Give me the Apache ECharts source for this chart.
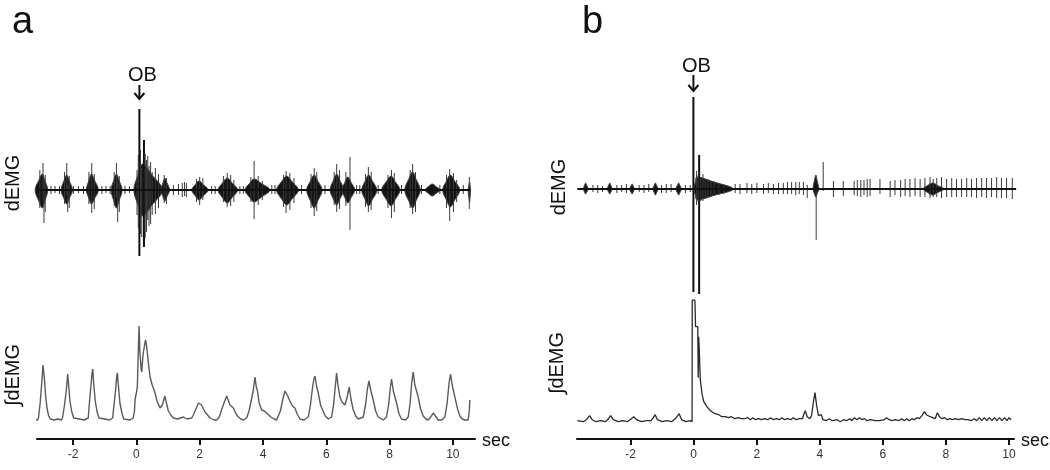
<!DOCTYPE html>
<html>
<head>
<meta charset="utf-8">
<script src="https://cdn.jsdelivr.net/npm/echarts@6/dist/echarts.min.js"></script>
<style>
  html, body { margin: 0; padding: 0; background: #fff; }
  #chart { width: 1050px; height: 470px; }
</style>
</head>
<body>
<div id="chart"></div>
<script>
// tick labels of the time axes (sec)
const tickValues = [-2, 0, 2, 4, 6, 8, 10];

// ---- panel a ----
// dEMG bursts: [start, peak, end, upper core, lower core]
const burstsA = [
  [-3.2, -2.97, -2.8, 16, 18], [-2.38, -2.2, -2.02, 15, 14], [-1.58, -1.42, -1.2, 16, 14],
  [-0.8, -0.63, -0.45, 16, 18], [-0.08, 0.2, 0.82, 26, 26], [0.78, 0.9, 1.05, 12, 11],
  [1.75, 1.98, 2.27, 9, 10], [2.58, 2.87, 3.2, 12, 13], [3.43, 3.72, 4.22, 11, 12],
  [4.43, 4.75, 5.12, 14, 15], [5.38, 5.62, 5.87, 15, 18], [6.12, 6.33, 6.55, 16, 15],
  [6.5, 6.68, 6.9, 13, 13], [7.12, 7.34, 7.6, 15, 16], [7.75, 8.05, 8.33, 14, 16],
  [8.48, 8.73, 8.97, 18, 18], [9.12, 9.35, 9.6, 6, 6], [9.68, 9.92, 10.22, 15, 17],
  [10.48, 10.53, 10.56, 8, 12]
];
// dEMG single spikes: [time, top, bottom]
const spikesA = [
  [-2.95, 27, -10], [-2.92, 10, -33], [-2.2, 27, -5], [-2.17, 5, -22], [-1.41, 27, -23],
  [-0.63, 27, -8], [-0.59, 8, -32], [0.02, 20, -25], [0.095, 81, -66], [0.17, 22, -47],
  [0.24, 50, -57], [0.32, 30, -42], [0.4, 24, -36], [0.5, 18, -25], [1.45, 7, -7],
  [1.52, 8, -6], [1.58, 7, -7], [2.0, 13, -15], [2.87, 17, -17], [3.72, 29, -29],
  [4.73, 19, -23], [5.62, 22, -26], [6.33, 26, -22], [6.75, 33, -40], [7.33, 23, -22],
  [8.06, 20, -28], [8.73, 26, -24], [9.9, 21, -31], [10.52, 13, -19],
  [-3.05, 20, -18], [-2.88, 15, -22], [-2.27, 18, -14], [-2.12, 14, -18], [-1.5, 18, -14],
  [-1.33, 16, -19], [-0.7, 18, -16], [-0.54, 14, -22], [0.06, 35, -38], [0.13, 40, -44],
  [0.28, 36, -48], [0.36, 34, -30], [0.45, 28, -34], [0.6, 22, -24], [0.7, 16, -18],
  [0.88, 15, -13], [0.95, 12, -14], [1.9, 11, -12], [2.1, 12, -10], [2.75, 14, -12],
  [2.98, 15, -16], [3.08, 10, -12], [3.62, 13, -12], [3.85, 14, -15], [3.98, 9, -10],
  [4.65, 15, -17], [4.85, 17, -20], [4.98, 12, -13], [5.52, 16, -18], [5.7, 18, -21],
  [6.25, 18, -15], [6.42, 20, -19], [6.62, 18, -16], [7.24, 16, -17], [7.42, 18, -20],
  [7.95, 15, -18], [8.15, 17, -22], [8.65, 20, -18], [8.82, 18, -22], [9.8, 15, -18],
  [10.02, 17, -22], [10.12, 10, -12],
  [-2.7, 4, -4], [-2.57, 4, -3], [-2.43, 4, -4], [-1.99, 4, -4], [-1.83, 4, -3], [-1.67, 4, -4],
  [-1.09, 4, -4], [-0.96, 4, -3], [-0.83, 4, -4], [-0.36, 4, -4], [-0.22, 4, -3],
  [1.17, 5, -5], [1.33, 6, -5], [2.38, 4, -4], [2.49, 4, -4], [3.27, 4, -4], [3.38, 4, -4],
  [4.28, 5, -4], [4.38, 5, -4], [5.22, 5, -4], [5.96, 5, -4], [6.96, 5, -4], [7.06, 5, -4],
  [7.64, 5, -4], [8.38, 5, -4], [9.01, 5, -4], [9.59, 5, -4], [10.33, 5, -4]
];
const baselineA = [[-3.2, 0], [10.55, 0]];
// integrated dEMG: [time, value]
const intA = [
  [-3.2, 1], [-3.12, 1], [-3.09, 4], [-3.04, 18], [-2.99, 38], [-2.95, 56], [-2.935, 58], [-2.91, 44],
  [-2.87, 26], [-2.82, 12], [-2.77, 5], [-2.72, 2], [-2.6, 1], [-2.48, 2], [-2.36, 1],
  [-2.33, 4], [-2.27, 16], [-2.21, 32], [-2.17, 47], [-2.14, 36], [-2.1, 20], [-2.04, 9], [-1.98, 3],
  [-1.94, 1], [-1.8, 2], [-1.65, 1], [-1.52, 3], [-1.5, 12], [-1.45, 30], [-1.4, 48], [-1.378, 52],
  [-1.35, 38], [-1.3, 20], [-1.24, 9], [-1.18, 3], [-1.146, 1], [-1, 2], [-0.85, 1], [-0.75, 3],
  [-0.72, 12], [-0.66, 30], [-0.62, 45], [-0.6, 48], [-0.57, 36], [-0.52, 18], [-0.45, 7], [-0.4, 2],
  [-0.357, 1], [-0.2, 1], [-0.1, 3], [-0.06, 10], [-0.04, 22], [0.0, 28], [0.03, 34],
  [0.07, 80], [0.085, 95], [0.11, 70], [0.15, 52], [0.17, 49], [0.2, 62], [0.222, 69], [0.26, 76],
  [0.29, 81], [0.32, 76], [0.38, 58], [0.433, 44], [0.5, 36], [0.59, 28], [0.65, 20], [0.748, 13],
  [0.82, 16], [0.9, 25], [0.95, 18], [1.011, 10], [1.09, 6], [1.169, 3], [1.3, 2], [1.485, 4], [1.6, 2],
  [1.75, 3], [1.8, 6], [1.88, 12], [1.96, 18], [2.02, 17], [2.06, 16], [2.12, 12], [2.17, 9], [2.25, 6],
  [2.327, 3], [2.45, 1], [2.538, 1], [2.62, 4], [2.7, 12], [2.78, 19], [2.853, 25], [2.9, 21],
  [2.959, 16], [3.0, 17], [3.064, 13], [3.15, 7], [3.222, 4], [3.3, 2], [3.38, 1],
  [3.485, 3], [3.56, 10], [3.64, 22], [3.7, 32], [3.748, 44], [3.79, 34], [3.822, 31], [3.88, 18],
  [3.958, 11], [4.04, 10], [4.116, 8], [4.25, 4], [4.35, 2], [4.432, 1],
  [4.485, 3], [4.55, 10], [4.643, 24], [4.7, 30], [4.727, 32], [4.78, 25], [4.853, 20], [4.93, 15],
  [5.011, 13], [5.08, 7], [5.169, 2], [5.3, 1], [5.432, 4], [5.5, 16], [5.569, 34], [5.61, 42],
  [5.643, 45], [5.7, 34], [5.748, 28], [5.82, 16], [5.885, 11], [5.97, 5], [6.064, 2],
  [6.169, 4], [6.23, 16], [6.29, 36], [6.327, 48], [6.37, 36], [6.432, 24], [6.5, 19], [6.59, 16],
  [6.66, 24], [6.727, 34], [6.78, 22], [6.853, 11], [6.93, 5], [7.011, 2],
  [7.169, 4], [7.24, 16], [7.3, 32], [7.348, 40], [7.41, 30], [7.485, 21], [7.56, 10], [7.642, 4], [7.8, 1],
  [7.905, 4], [7.97, 16], [8.02, 32], [8.063, 42], [8.12, 30], [8.221, 18], [8.3, 7], [8.379, 2], [8.5, 1],
  [8.59, 4], [8.65, 18], [8.7, 38], [8.747, 49], [8.8, 36], [8.905, 24], [8.98, 12], [9.063, 5],
  [9.15, 2], [9.221, 1], [9.3, 4], [9.379, 8], [9.45, 5], [9.537, 1], [9.65, 1],
  [9.748, 4], [9.82, 18], [9.88, 38], [9.926, 47], [9.98, 36], [10.063, 24], [10.15, 12], [10.221, 5],
  [10.3, 2], [10.379, 1], [10.484, 1], [10.52, 10], [10.537, 21]
];
// OB marker: [time, text y, arrow top, arrow bottom]
const obMarkA = [[0.095, 115, 105, 91]];

// ---- panel b ----
const burstsB = [
  [-3.5, -3.43, -3.35, 6, 5], [-2.75, -2.67, -2.6, 6, 5], [-2.05, -1.97, -1.9, 5, 5],
  [-1.32, -1.24, -1.16, 6, 6], [-0.6, -0.51, -0.43, 6, 6], [-0.03, 0.06, 1.2, 12, 11],
  [3.7, 3.79, 3.88, 14, 8], [7.15, 7.45, 7.8, 6, 6]
];
const spikesB = [
  [-0.05, 92, -103], [0.13, 34, -105], [3.8, 0, -51], [4.02, 27, -2], [0.05, 18, -16],
  [0.1, 14, -13], [0.18, 12, -12], [0.25, 15, -12], [0.32, 10, -10], [0.4, 10, -9],
  [0.5, 8, -8], [0.6, 8, -7], [0.75, 6, -6], [0.9, 5, -5],
  [-3.2, 4, -3], [-3.05, 4, -4], [-2.9, 3, -3], [-2.45, 4, -4], [-2.3, 4, -3], [-2.15, 5, -4],
  [-1.75, 4, -3], [-1.6, 4, -4], [-1.45, 5, -3], [-1.05, 4, -4], [-0.9, 5, -4], [-0.75, 5, -3],
  [-0.3, 4, -4], [-0.15, 4, -3],
  [1.26, 5, -4], [1.41, 5, -5], [1.63, 6, -4], [1.78, 5, -5], [1.94, 6, -4], [2.15, 5, -5],
  [2.3, 6, -4], [2.46, 5, -5], [2.62, 6, -5], [2.77, 6, -5], [2.9, 7, -5], [3.03, 7, -5],
  [3.16, 7, -6], [3.27, 7, -5], [3.4, 7, -6], [3.52, 4, -9],
  [4.34, 8, -8], [4.65, 8, -7], [4.99, 8, -6], [5.09, 9, -7], [5.2, 9, -8], [5.3, 9, -6],
  [5.4, 10, -8], [5.49, 10, -7], [5.8, 10, -5], [6.12, 8, -8], [6.27, 9, -6], [6.45, 9, -8],
  [6.59, 10, -7], [6.74, 10, -8], [6.9, 11, -7], [7.06, 10, -8], [7.21, 11, -8], [7.37, 12, -9],
  [7.47, 10, -8], [7.58, 11, -8], [7.73, 12, -9], [7.89, 10, -8], [8.05, 11, -8], [8.2, 10, -8],
  [8.36, 10, -8], [8.52, 11, -8], [8.67, 10, -8], [8.83, 11, -9], [8.99, 11, -8], [9.14, 11, -9],
  [9.3, 11, -8], [9.46, 12, -9], [9.61, 11, -9], [9.77, 11, -9], [9.95, 11, -10]
];
const baselineB = [[-3.69, 0], [10.07, 0]];
const intB = [
  [-3.69, 1], [-3.5, 0], [-3.4, 2], [-3.3, 6], [-3.22, 2], [-3.1, 0], [-2.95, 1], [-2.8, 0], [-2.7, 3],
  [-2.63, 6], [-2.55, 2], [-2.4, 0], [-2.25, 1], [-2.1, 0], [-1.98, 3], [-1.9, 5], [-1.82, 2], [-1.65, 0],
  [-1.5, 1], [-1.35, 1], [-1.28, 4], [-1.22, 7], [-1.15, 2], [-1.0, 0], [-0.85, 1], [-0.7, 0],
  [-0.55, 4], [-0.46, 8], [-0.38, 2], [-0.25, 0], [-0.12, 1], [-0.05, 0],
  [-0.045, 121.5], [0.04, 121.5], [0.06, 95], [0.13, 95], [0.145, 44], [0.16, 85], [0.18, 70],
  [0.21, 42], [0.27, 27], [0.32, 20], [0.42, 15], [0.5, 12], [0.58, 10], [0.68, 8], [0.79, 7],
  [0.9, 5], [1.0, 5], [1.1, 4], [1.2, 5], [1.3, 3], [1.42, 4],
  [1.5, 3], [1.56, 5], [1.62, 3], [1.72, 4], [1.8, 2], [1.88, 4], [1.96, 2], [2.05, 3], [2.15, 2],
  [2.25, 3], [2.35, 2], [2.44, 4], [2.52, 2], [2.62, 3], [2.72, 2], [2.8, 4], [2.88, 2], [2.98, 3],
  [3.08, 2], [3.16, 4], [3.25, 2], [3.35, 3], [3.45, 3], [3.5, 8], [3.54, 11], [3.6, 5], [3.68, 3],
  [3.74, 6], [3.8, 20], [3.85, 29], [3.9, 16], [3.96, 6], [4.02, 5], [4.05, 7], [4.1, 2], [4.2, 1],
  [4.3, 3], [4.4, 1], [4.55, 2], [4.65, 0], [4.75, 2], [4.85, 1], [4.95, 3], [5.02, 1], [5.1, 4],
  [5.18, 2], [5.26, 4], [5.34, 2], [5.42, 3], [5.5, 1], [5.62, 2], [5.75, 1], [5.9, 1], [6.05, 2],
  [6.12, 4], [6.2, 2], [6.3, 1], [6.4, 2], [6.5, 1], [6.6, 3], [6.68, 1], [6.76, 3], [6.84, 1],
  [6.92, 3], [7.0, 2], [7.08, 4], [7.16, 3], [7.24, 6], [7.32, 10], [7.38, 7], [7.44, 9], [7.5, 5],
  [7.58, 4], [7.66, 3], [7.73, 9], [7.8, 5], [7.88, 3], [7.96, 4], [8.04, 2], [8.12, 3], [8.2, 2],
  [8.3, 3], [8.4, 2], [8.5, 3], [8.6, 2], [8.7, 2], [8.8, 1], [8.9, 3], [8.98, 1], [9.06, 4],
  [9.14, 1], [9.22, 4], [9.3, 1], [9.38, 4], [9.46, 1], [9.54, 4], [9.62, 1], [9.7, 4], [9.78, 1],
  [9.86, 4], [9.94, 1], [10.0, 4], [10.07, 2]
];
const obMarkB = [[-0.05, 123, 114, 98]];

const FONT = '"Liberation Sans", Arial, sans-serif';

function renderBurst(params, api) {
  const t0 = api.value(0), tp = api.value(1), t1 = api.value(2);
  const up = api.value(3), dn = api.value(4);
  const pts = [
    [t0, 0], [t0 + (tp - t0) * 0.5, up * 0.6], [tp, up], [tp + (t1 - tp) * 0.45, up * 0.6], [t1, 0],
    [tp + (t1 - tp) * 0.45, -dn * 0.6], [tp, -dn], [t0 + (tp - t0) * 0.5, -dn * 0.6]
  ].map(p => api.coord(p));
  return {
    type: 'polygon',
    shape: { points: pts, smooth: 0.35 },
    style: { fill: '#141414', stroke: '#444', lineWidth: 1 }
  };
}

function renderSpike(params, api) {
  const a = api.coord([api.value(0), api.value(1)]);
  const b = api.coord([api.value(0), api.value(2)]);
  const big = api.value(1) - api.value(2) > 100;
  return {
    type: 'line',
    shape: { x1: a[0], y1: a[1], x2: b[0], y2: b[1] },
    style: { stroke: big ? '#111' : '#3a3a3a', lineWidth: big ? 2 : 1 }
  };
}

function renderMark(params, api) {
  const t = api.value(0);
  const txt = api.coord([t, api.value(1)]);
  const top = api.coord([t, api.value(2)]);
  const bot = api.coord([t, api.value(3)]);
  return {
    type: 'group',
    children: [
      { type: 'text', x: txt[0] + 3, y: txt[1],
        style: { text: 'OB', font: '20px ' + FONT, fill: '#111', align: 'center', verticalAlign: 'middle' } },
      { type: 'line', shape: { x1: top[0], y1: top[1], x2: bot[0], y2: bot[1] },
        style: { stroke: '#111', lineWidth: 2 } },
      { type: 'polyline', shape: { points: [[bot[0] - 5, bot[1] - 6], [bot[0], bot[1]], [bot[0] + 5, bot[1] - 6]] },
        style: { stroke: '#111', lineWidth: 2, fill: null } }
    ]
  };
}

function hiddenX(grid, min, max) {
  return { type: 'value', gridIndex: grid, min: min, max: max, show: false };
}
function timeX(grid, min, max) {
  return {
    type: 'value', gridIndex: grid, min: min, max: max,
    name: 'sec', nameLocation: 'end', nameGap: 7,
    nameTextStyle: { fontSize: 18, color: '#111', fontFamily: FONT, verticalAlign: 'top', padding: [-7, 0, 0, 0] },
    axisLine: { show: true, onZero: false, lineStyle: { color: '#111', width: 2 } },
    axisTick: { show: true, length: 6, customValues: tickValues, lineStyle: { color: '#111', width: 2 } },
    axisLabel: { customValues: tickValues, color: '#333', fontSize: 12, fontFamily: FONT, margin: 10 },
    splitLine: { show: false }
  };
}
function hiddenY(grid, min, max) {
  return { type: 'value', gridIndex: grid, min: min, max: max, show: false, splitLine: { show: false } };
}

const chart = echarts.init(document.getElementById('chart'));
chart.setOption({
  backgroundColor: '#fff',
  animation: false,
  grid: [
    { left: 37, width: 438, top: 60, height: 200 },
    { left: 37, width: 438, top: 300, height: 139 },
    { left: 577, width: 442, top: 60, height: 240 },
    { left: 577, width: 442, top: 295, height: 144 }
  ],
  xAxis: [
    hiddenX(0, -3.14, 10.7), timeX(1, -3.14, 10.7),
    hiddenX(2, -3.70, 10.16), timeX(3, -3.70, 10.16)
  ],
  yAxis: [
    hiddenY(0, -70, 130), hiddenY(1, -18, 121),
    hiddenY(2, -111, 129), hiddenY(3, -17.3, 126.7)
  ],
  graphic: [
    { type: 'text', x: 12, y: 42, style: { text: 'a', font: '38px ' + FONT, fill: '#111', verticalAlign: 'bottom' } },
    { type: 'text', x: 582, y: 42, style: { text: 'b', font: '38px ' + FONT, fill: '#111', verticalAlign: 'bottom' } },
    { type: 'text', x: 13, y: 183, rotation: Math.PI / 2,
      style: { text: 'dEMG', font: '20px ' + FONT, fill: '#111', align: 'center', verticalAlign: 'middle' } },
    { type: 'text', x: 13, y: 375, rotation: Math.PI / 2,
      style: { text: '∫dEMG', font: '20px ' + FONT, fill: '#111', align: 'center', verticalAlign: 'middle' } },
    { type: 'text', x: 559, y: 187, rotation: Math.PI / 2,
      style: { text: 'dEMG', font: '20px ' + FONT, fill: '#111', align: 'center', verticalAlign: 'middle' } },
    { type: 'text', x: 557, y: 363, rotation: Math.PI / 2,
      style: { text: '∫dEMG', font: '20px ' + FONT, fill: '#111', align: 'center', verticalAlign: 'middle' } }
  ],
  series: [
    { type: 'line', xAxisIndex: 0, yAxisIndex: 0, data: baselineA, symbol: 'none',
      lineStyle: { color: '#111', width: 2 } },
    { type: 'custom', xAxisIndex: 0, yAxisIndex: 0, data: burstsA, renderItem: renderBurst,
      encode: { x: [0, 1, 2], y: [3, 4] } },
    { type: 'custom', xAxisIndex: 0, yAxisIndex: 0, data: spikesA, renderItem: renderSpike,
      encode: { x: 0, y: [1, 2] } },
    { type: 'custom', xAxisIndex: 0, yAxisIndex: 0, data: obMarkA, renderItem: renderMark,
      encode: { x: 0, y: [1, 2, 3] } },
    { type: 'line', xAxisIndex: 1, yAxisIndex: 1, data: intA, symbol: 'none',
      lineStyle: { color: '#5a5a5a', width: 1.4 } },

    { type: 'line', xAxisIndex: 2, yAxisIndex: 2, data: baselineB, symbol: 'none',
      lineStyle: { color: '#111', width: 2 } },
    { type: 'custom', xAxisIndex: 2, yAxisIndex: 2, data: burstsB, renderItem: renderBurst,
      encode: { x: [0, 1, 2], y: [3, 4] } },
    { type: 'custom', xAxisIndex: 2, yAxisIndex: 2, data: spikesB, renderItem: renderSpike,
      encode: { x: 0, y: [1, 2] } },
    { type: 'custom', xAxisIndex: 2, yAxisIndex: 2, data: obMarkB, renderItem: renderMark,
      encode: { x: 0, y: [1, 2, 3] } },
    { type: 'line', xAxisIndex: 3, yAxisIndex: 3, data: intB, symbol: 'none',
      lineStyle: { color: '#2a2a2a', width: 1.3 } }
  ]
});
</script>
</body>
</html>
